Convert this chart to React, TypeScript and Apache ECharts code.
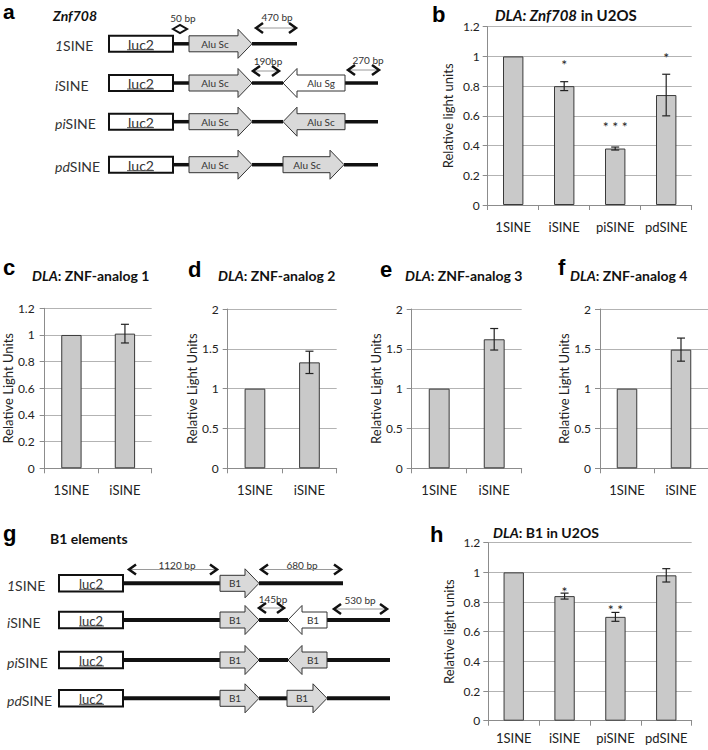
import React, { useEffect, useRef } from 'react';
import * as echarts from 'echarts';

const FONT = 'Lato, "Open Sans", "DejaVu Sans", sans-serif';
const LETTER_FONT = '"Liberation Sans", Arial, sans-serif';

// ---- Panel b: DLA Znf708 in U2OS ----
const bCategories = ['1SINE', 'iSINE', 'piSINE', 'pdSINE'];
const bValues = [1, 0.8, 0.38, 0.74];
const bErrors = [0, 0.03, 0.01, 0.14];
const bStars = ['', '*', '* * *', '*'];
const bStarLevels = [0, 0.945, 0.53, 0.99];

// ---- Panels c-f: ZNF analogs ----
const analogCategories = ['1SINE', 'iSINE'];
const analog1Values = [1, 1.01];
const analog1Errors = [0, 0.07];
const analog2Values = [1, 1.33];
const analog2Errors = [0, 0.14];
const analog3Values = [1, 1.62];
const analog3Errors = [0, 0.135];
const analog4Values = [1, 1.49];
const analog4Errors = [0, 0.145];

// ---- Panel h: DLA B1 in U2OS ----
const hCategories = ['1SINE', 'iSINE', 'piSINE', 'pdSINE'];
const hValues = [1, 0.84, 0.7, 0.98];
const hErrors = [0, 0.02, 0.03, 0.045];
const hStars = ['', '*', '* *', ''];
const hStarLevels = [0, 0.873, 0.75, 0];

// axis scales
const smallMax = 1.2;
const smallStep = 0.2;
const largeMax = 2;
const largeStep = 0.5;

// construct names (italic prefix + SINE)
const constructPrefixes = ['1', 'i', 'pi', 'pd'];

type Panel = {
  cats: string[];
  values: number[];
  errors: number[];
  stars?: string[];
  starLevels?: number[];
  max: number;
  step: number;
  yName: string;
  grid: { left: number; top: number; width: number; height: number };
  barWidth: string;
  nameGap: number;
  yLabelMargin: number;
  xLabelMargin: number;
  title: string;
  titleLeft: number;
  titleTop: number;
  titleSize: number;
};

const panels: Panel[] = [
  {
    cats: bCategories, values: bValues, errors: bErrors, stars: bStars, starLevels: bStarLevels,
    max: smallMax, step: smallStep, yName: 'Relative light units',
    grid: { left: 487.7, top: 26.7, width: 204, height: 178.3 }, barWidth: '40%',
    nameGap: 33, yLabelMargin: 8, xLabelMargin: 15,
    title: '{bi|DLA: Znf708}{b| in U2OS}', titleLeft: 495, titleTop: 7, titleSize: 15,
  },
  {
    cats: analogCategories, values: analog1Values, errors: analog1Errors,
    max: smallMax, step: smallStep, yName: 'Relative Light Units',
    grid: { left: 41.7, top: 308.3, width: 110, height: 160 }, barWidth: '38%',
    nameGap: 30, yLabelMargin: 10, xLabelMargin: 15,
    title: '{bi|DLA}{b|: ZNF-analog 1}', titleLeft: 32, titleTop: 267, titleSize: 14,
  },
  {
    cats: analogCategories, values: analog2Values, errors: analog2Errors,
    max: largeMax, step: largeStep, yName: 'Relative Light Units',
    grid: { left: 227.7, top: 309, width: 109, height: 159.3 }, barWidth: '38%',
    nameGap: 28, yLabelMargin: 9, xLabelMargin: 15,
    title: '{bi|DLA}{b|: ZNF-analog 2}', titleLeft: 218, titleTop: 267, titleSize: 14,
  },
  {
    cats: analogCategories, values: analog3Values, errors: analog3Errors,
    max: largeMax, step: largeStep, yName: 'Relative Light Units',
    grid: { left: 411.7, top: 309, width: 110, height: 159.3 }, barWidth: '38%',
    nameGap: 29, yLabelMargin: 9, xLabelMargin: 15,
    title: '{bi|DLA}{b|: ZNF-analog 3}', titleLeft: 405, titleTop: 267, titleSize: 14,
  },
  {
    cats: analogCategories, values: analog4Values, errors: analog4Errors,
    max: largeMax, step: largeStep, yName: 'Relative Light Units',
    grid: { left: 600, top: 309, width: 108, height: 159.3 }, barWidth: '38%',
    nameGap: 28, yLabelMargin: 9, xLabelMargin: 15,
    title: '{bi|DLA}{b|: ZNF-analog 4}', titleLeft: 570, titleTop: 267, titleSize: 14,
  },
  {
    cats: hCategories, values: hValues, errors: hErrors, stars: hStars, starLevels: hStarLevels,
    max: smallMax, step: smallStep, yName: 'Relative light units',
    grid: { left: 488.3, top: 542.7, width: 203.4, height: 178 }, barWidth: '40%',
    nameGap: 33, yLabelMargin: 8, xLabelMargin: 11,
    title: '{bi|DLA}{b|: B1 in U2OS}', titleLeft: 493, titleTop: 524, titleSize: 14,
  },
];

const INK = '#111';
const ARROW_FILL = '#d9d9d9';

function txt(x: number, y: number, text: string, size: number, opts: any = {}) {
  return {
    type: 'text', x, y, silent: true,
    style: {
      text, fill: opts.fill || '#333', fontSize: size, fontFamily: opts.fontFamily || FONT,
      fontWeight: opts.fontWeight || 'normal', fontStyle: opts.fontStyle || 'normal',
      align: opts.align || 'center', textAlign: opts.align || 'center',
      verticalAlign: 'middle', textVerticalAlign: 'middle',
      lineHeight: opts.lineHeight, rich: opts.rich,
    },
  };
}
function seg(x1: number, y1: number, x2: number, y2: number, stroke: string, lw: number) {
  return { type: 'line', silent: true, shape: { x1, y1, x2, y2 }, style: { stroke, lineWidth: lw } };
}
function rightArrow(x0: number, xb: number, xt: number, c: number, bh: number, hh: number, fill: string) {
  return {
    type: 'polygon', silent: true,
    shape: { points: [[x0, c - bh], [xb, c - bh], [xb, c - hh], [xt, c], [xb, c + hh], [xb, c + bh], [x0, c + bh]] },
    style: { fill, stroke: '#333', lineWidth: 1 },
  };
}
function leftArrow(xt: number, xb: number, x1: number, c: number, bh: number, hh: number, fill: string) {
  return {
    type: 'polygon', silent: true,
    shape: { points: [[xt, c], [xb, c - hh], [xb, c - bh], [x1, c - bh], [x1, c + bh], [xb, c + bh], [xb, c + hh]] },
    style: { fill, stroke: '#333', lineWidth: 1 },
  };
}
function span(x1: number, x2: number, y: number) {
  return [
    seg(x1 + 2, y, x2 - 2, y, '#9a9a9a', 1),
    { type: 'polyline', silent: true, shape: { points: [[x1 + 8, y - 5], [x1 + 1, y], [x1 + 8, y + 5]] }, style: { stroke: INK, lineWidth: 2.5, fill: 'none' } },
    { type: 'polyline', silent: true, shape: { points: [[x2 - 8, y - 5], [x2 - 1, y], [x2 - 8, y + 5]] }, style: { stroke: INK, lineWidth: 2.5, fill: 'none' } },
  ];
}
const labelRich = {
  i: { fontFamily: FONT, fontSize: 14, fontStyle: 'italic', color: '#222' },
  n: { fontFamily: FONT, fontSize: 14, color: '#222' },
};

function buildDiagrams() {
  const els: any[] = [];
  // ---- panel a ----
  const rowsA = [43.8, 83, 121.7, 164.7];
  rowsA.forEach((c, r) => {
    els.push(txt(55, c + 2, `{i|${constructPrefixes[r]}}{n|SINE}`, 14, { align: 'left', rich: labelRich }));
    els.push(seg(173, c, 189, c, INK, 3.5));
    if (r === 0) els.push(seg(252, c, 297, c, INK, 3.5));
    else {
      els.push(seg(252, c, 283, c, INK, 3.5));
      els.push(seg(344, c, 378, c, INK, 3.5));
    }
    els.push({ type: 'rect', silent: true, shape: { x: 109, y: c - 8, width: 64, height: 16 }, style: { fill: '#fff', stroke: INK, lineWidth: 2 } });
    els.push(txt(141, c + 0.5, 'luc2', 14, { fill: '#333' }));
    els.push(seg(127, c + 6, 154, c + 6, '#555', 1));
    els.push(rightArrow(189, 238, 252, c, 8, 14.5, ARROW_FILL));
    els.push(txt(215, c, 'Alu Sc', 10));
    if (r === 1) {
      els.push(leftArrow(283, 297, 345, c, 8, 14.5, '#fff'));
      els.push(txt(321, c, 'Alu Sg', 10));
    } else if (r === 2) {
      els.push(leftArrow(283, 297, 345, c, 8, 14.5, ARROW_FILL));
      els.push(txt(321, c, 'Alu Sc', 10));
    } else if (r === 3) {
      els.push(rightArrow(283, 330, 344, c, 8, 14.5, ARROW_FILL));
      els.push(txt(307, c, 'Alu Sc', 10));
    }
  });
  els.push(txt(53, 15, 'Znf708', 14, { align: 'left', fontWeight: 'bold', fontStyle: 'italic', fill: '#111' }));
  els.push(txt(183, 18, '50 bp', 10));
  els.push({ type: 'polygon', silent: true, shape: { points: [[173, 29], [180, 25], [187, 29], [180, 33]] }, style: { fill: 'none', stroke: INK, lineWidth: 2 } });
  els.push(txt(277, 17, '470 bp', 10));
  els.push(...span(255, 297, 28));
  els.push(txt(268, 61, '190bp', 10));
  els.push(...span(252, 280, 71));
  els.push(txt(368, 60, '270 bp', 10));
  els.push(...span(347, 380, 70));

  // ---- panel g ----
  const rowsG = [583.3, 620, 660, 698.3];
  rowsG.forEach((c, r) => {
    els.push(txt(7, c + 2, `{i|${constructPrefixes[r]}}{n|SINE}`, 14, { align: 'left', rich: labelRich }));
    els.push(seg(123, c, 220, c, INK, 4));
    if (r === 0) els.push(seg(259, c, 343, c, INK, 4));
    else {
      els.push(seg(259, c, 288, c, INK, 4));
      els.push(seg(327, c, 390, c, INK, 4));
    }
    els.push({ type: 'rect', silent: true, shape: { x: 59, y: c - 8.3, width: 64, height: 16.6 }, style: { fill: '#fff', stroke: INK, lineWidth: 2 } });
    els.push(txt(91, c + 0.5, 'luc2', 13, { fill: '#333' }));
    els.push(seg(79, c + 6, 104, c + 6, '#555', 1));
    els.push(rightArrow(220, 245, 259, c, 8, 14.5, ARROW_FILL));
    els.push(txt(235, c, 'B1', 10));
    if (r === 1) {
      els.push(leftArrow(288, 302, 327, c, 8, 14.5, '#fff'));
      els.push(txt(313, c, 'B1', 10));
    } else if (r === 2) {
      els.push(leftArrow(288, 302, 327, c, 8, 14.5, ARROW_FILL));
      els.push(txt(313, c, 'B1', 10));
    } else if (r === 3) {
      els.push(rightArrow(287, 313, 327, c, 8, 14.5, ARROW_FILL));
      els.push(txt(302, c, 'B1', 10));
    }
  });
  els.push(txt(50, 538, 'B1 elements', 14, { align: 'left', fontWeight: 'bold', fill: '#111' }));
  els.push(txt(177, 565, '1120 bp', 10));
  els.push(...span(128, 218, 569.5));
  els.push(txt(302, 565, '680 bp', 10));
  els.push(...span(260, 342, 569.5));
  els.push(txt(273, 599, '145bp', 10));
  els.push(...span(258, 285, 608));
  els.push(txt(360, 600, '530 bp', 10));
  els.push(...span(333, 388, 609));

  // ---- panel letters ----
  const letters: [string, number, number, number][] = [
    ['a', 3, 11, 21], ['b', 432, 14.5, 22], ['c', 3, 267.5, 22], ['d', 188, 269.5, 22],
    ['e', 380, 269.5, 22], ['f', 558, 267.5, 22], ['g', 3, 533.5, 22], ['h', 430, 534.5, 22],
  ];
  letters.forEach(([l, x, y, s]) => {
    els.push(txt(x, y, l, s, { align: 'left', fontWeight: 'bold', fontFamily: LETTER_FONT, fill: '#000', lineHeight: 16 }));
  });
  return els;
}

function buildOption() {
  const grid: any[] = [];
  const xAxis: any[] = [];
  const yAxis: any[] = [];
  const series: any[] = [];
  const title: any[] = [];
  panels.forEach((p, i) => {
    const richTitle = {
      bi: { fontFamily: FONT, fontSize: p.titleSize, fontWeight: 'bold', fontStyle: 'italic', color: '#111', lineHeight: 16 },
      b: { fontFamily: FONT, fontSize: p.titleSize, fontWeight: 'bold', color: '#111', lineHeight: 16 },
    };
    grid.push({ ...p.grid, containLabel: false });
    title.push({ text: p.title, left: p.titleLeft, top: p.titleTop, padding: 0, textStyle: { rich: richTitle } });
    xAxis.push({
      type: 'category', gridIndex: i, data: p.cats,
      axisLine: { show: true, lineStyle: { color: '#8c8c8c' } },
      axisTick: { show: true, length: 5, lineStyle: { color: '#8c8c8c' } },
      axisLabel: { color: '#222', fontFamily: FONT, fontSize: 13, margin: p.xLabelMargin, interval: 0, hideOverlap: false },
    });
    yAxis.push({
      type: 'value', gridIndex: i, min: 0, max: p.max, interval: p.step,
      name: p.yName, nameLocation: 'middle', nameGap: p.nameGap,
      nameTextStyle: { color: '#222', fontFamily: FONT, fontSize: 13 },
      axisLine: { show: true, lineStyle: { color: '#8c8c8c' } },
      axisTick: { show: true, length: 5, lineStyle: { color: '#8c8c8c' } },
      axisLabel: { color: '#222', fontFamily: FONT, fontSize: 12, margin: p.yLabelMargin },
      splitLine: { show: true, lineStyle: { color: '#b3b3b3', width: 1 } },
    });
    series.push({
      type: 'bar', xAxisIndex: i, yAxisIndex: i, data: p.values, barWidth: p.barWidth,
      itemStyle: { color: '#c9c9c9', borderColor: '#3a3a3a', borderWidth: 1 },
      z: 3,
    });
    series.push({
      type: 'custom', xAxisIndex: i, yAxisIndex: i, z: 5,
      encode: { x: 0, y: 1 },
      data: p.values.map((v, k) => [k, v, p.errors[k]]),
      renderItem: (params: any, api: any) => {
        const k = api.value(0);
        const v = api.value(1);
        const e = api.value(2);
        if (!e) return { type: 'group', children: [] };
        const t = api.coord([k, v + e]);
        const b = api.coord([k, v - e]);
        const cx = t[0];
        const st = { stroke: '#222', lineWidth: 1.2 };
        return {
          type: 'group', children: [
            { type: 'line', shape: { x1: cx, y1: t[1], x2: cx, y2: b[1] }, style: st },
            { type: 'line', shape: { x1: cx - 4, y1: t[1], x2: cx + 4, y2: t[1] }, style: st },
            { type: 'line', shape: { x1: cx - 4, y1: b[1], x2: cx + 4, y2: b[1] }, style: st },
          ],
        };
      },
    });
    if (p.stars && p.starLevels) {
      const stars = p.stars;
      series.push({
        type: 'custom', xAxisIndex: i, yAxisIndex: i, z: 6,
        encode: { x: 0, y: 1 },
        data: p.starLevels.map((lv, k) => [k, lv]),
        renderItem: (params: any, api: any) => {
          const s = stars[params.dataIndex];
          if (!s) return { type: 'group', children: [] };
          const pt = api.coord([api.value(0), api.value(1)]);
          return {
            type: 'text', x: pt[0], y: pt[1],
            style: {
              text: s, fill: '#222', fontSize: 14, fontFamily: FONT,
              align: 'center', textAlign: 'center', verticalAlign: 'middle', textVerticalAlign: 'middle',
            },
          };
        },
      });
    }
  });
  return {
    animation: false,
    backgroundColor: '#fff',
    title, grid, xAxis, yAxis, series,
    graphic: { elements: buildDiagrams() },
  };
}

export default function App() {
  const ref = useRef<HTMLDivElement>(null);
  useEffect(() => {
    if (!ref.current) return;
    const chart = echarts.init(ref.current, undefined, { renderer: 'svg' });
    chart.setOption(buildOption() as any);
    return () => chart.dispose();
  }, []);
  return <div ref={ref} style={{ position: 'absolute', left: 0, top: 0, width: 708, height: 750 }} />;
}
